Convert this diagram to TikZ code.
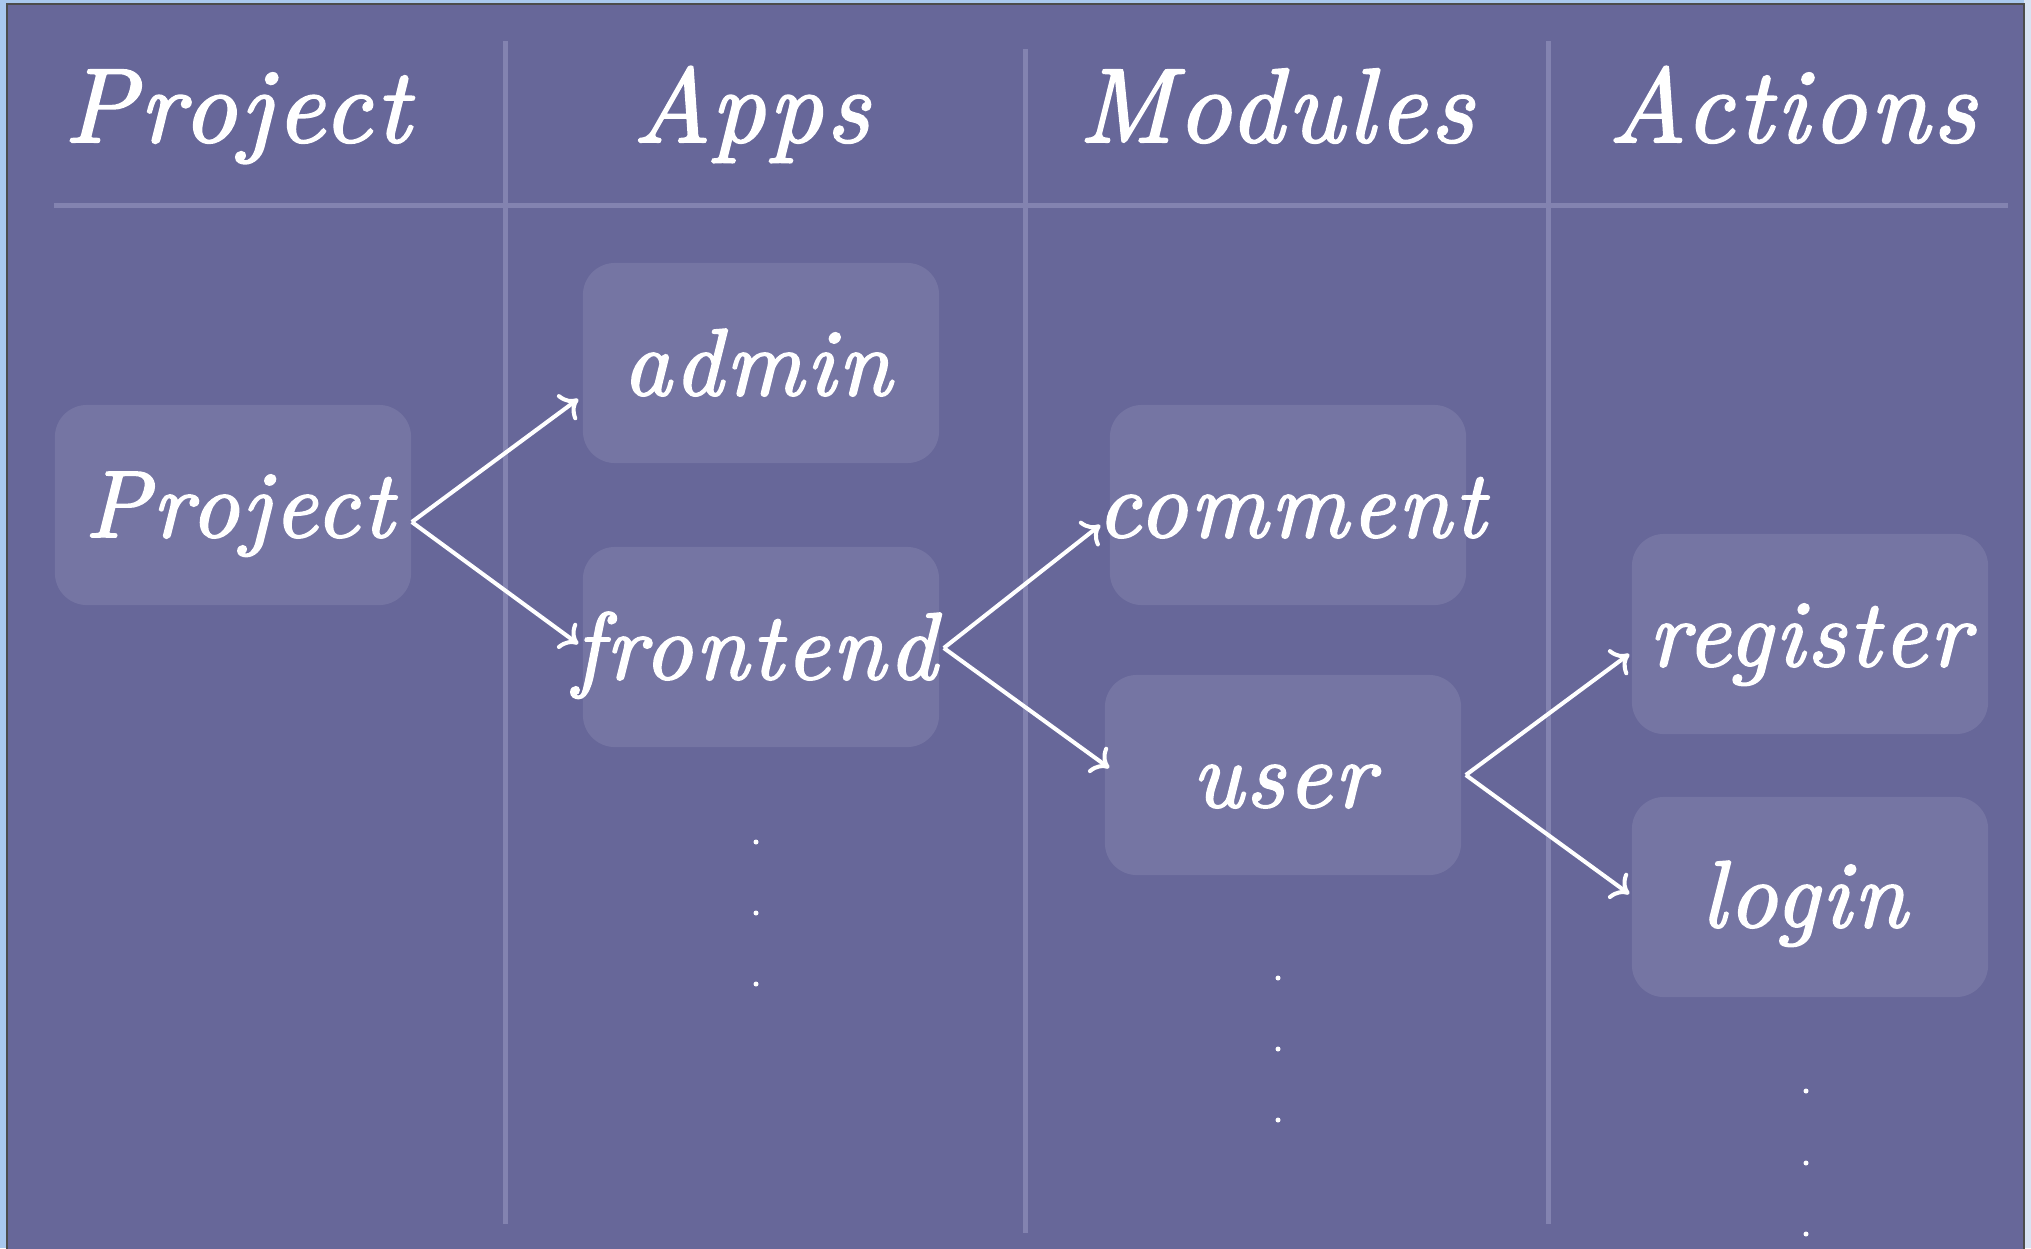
\documentclass[tikz,border=0pt]{standalone}
\usepackage{fontspec}
\usetikzlibrary{arrows.meta,calc}
\definecolor{bgc}{HTML}{676799}
\definecolor{boxc}{HTML}{7575A3}
\definecolor{linec}{HTML}{8383B0}
\definecolor{framec}{HTML}{A9C8EE}
\definecolor{framer}{HTML}{D8E3F3}
\newfontfamily\headfont{lmroman10-italic.otf}[FakeBold=2,LetterSpace=3.5]
\newfontfamily\boxfont{lmroman10-italic.otf}[FakeBold=2,LetterSpace=3]
\begin{document}
\begin{tikzpicture}[x=0.01cm,y=-0.01cm,
  colline/.style={linec,line width=0.05cm},
  box/.style={rounded corners=0.32cm,fill=boxc,minimum width=3.56cm,minimum height=2.0cm,inner sep=0pt},
  boxtext/.style={text=white,font=\boxfont\fontsize{27}{32}\selectfont,anchor=base,inner sep=0pt},
  head/.style={text=white,font=\headfont\fontsize{30}{36}\selectfont,anchor=base,inner sep=0pt},
  link/.style={white,line width=1.15pt,-{To[length=4.5pt,width=9pt]}},
  vdot/.style={circle,fill=white,inner sep=0pt,minimum size=0.05cm}]
\useasboundingbox (0,0) rectangle (2031,1248);
\clip (0,0) rectangle (2031,1248);
\fill[framec] (0,0) rectangle (2031,1248);
\fill[framer] (2024,0) rectangle (2031,1248);
\filldraw[fill=bgc,draw=black!70,line width=0.4pt] (7,4) rectangle (2024,1270);
% column lines
\draw[colline] (505,41) -- (505,1224);
\draw[colline] (1025,49) -- (1025,1233);
\draw[colline] (1548,41) -- (1548,1224);
\draw[colline] (54,205) -- (2008,205);
% headers
\node[head] (hproj) at (237,142) {Project};
\node[head] (happs) at (751,142) {Apps};
\node[head] (hmod) at (1276,142) {Modules};
\node[head] (hact) at (1792,142) {Actions};
% boxes
\node[box] (proj) at (233,505) {};
\node[box] (admin) at (761,363) {};
\node[box] (front) at (761,647) {};
\node[box] (comm) at (1288,505) {};
\node[box] (user) at (1283,775) {};
\node[box] (reg) at (1810,634) {};
\node[box] (login) at (1810,897) {};
% box texts
\node[boxtext] (tproj) at ($(proj.center)+(6,32)$) {Project};
\node[boxtext] (tadmin) at ($(admin.center)+(-4,32)$) {admin};
\node[boxtext] (tfront) at ($(front.center)+(-6,32)$) {frontend};
\node[boxtext] (tcomm) at ($(comm.center)+(3,32)$) {comment};
\node[boxtext] (tuser) at ($(user.center)+(0,32)$) {user};
\node[boxtext] (treg) at ($(reg.center)+(-1,32)$) {register};
\node[boxtext] (tlogin) at ($(login.center)+(-6,30)$) {login};
% connector end points
\coordinate (s1) at ($(proj.east)+(0,17)$);
\coordinate (e1a) at ($(admin.west)+(-4,36)$);
\coordinate (e1b) at ($(front.west)+(-4,-3)$);
\coordinate (s2) at ($(front.east)+(4,1)$);
\coordinate (e2a) at ($(comm.west)+(-9,20)$);
\coordinate (e2b) at ($(user.west)+(5,-7)$);
\coordinate (s3) at ($(user.east)+(4,0)$);
\coordinate (e3a) at ($(reg.west)+(-2,20)$);
\coordinate (e3b) at ($(login.west)+(-2,-3)$);
\draw[link] (s1) -- (e1a);
\draw[link] (s1) -- (e1b);
\draw[link] (s2) -- (e2a);
\draw[link] (s2) -- (e2b);
\draw[link] (s3) -- (e3a);
\draw[link] (s3) -- (e3b);
% ellipses
\node[vdot] (da1) at (756,842) {};
\node[vdot] (da2) at (756,913) {};
\node[vdot] (da3) at (756,984) {};
\node[vdot] (dm1) at (1278,978) {};
\node[vdot] (dm2) at (1278,1049) {};
\node[vdot] (dm3) at (1278,1120) {};
\node[vdot] (dc1) at (1806,1091) {};
\node[vdot] (dc2) at (1806,1163) {};
\node[vdot] (dc3) at (1806,1234) {};
\end{tikzpicture}
\end{document}
